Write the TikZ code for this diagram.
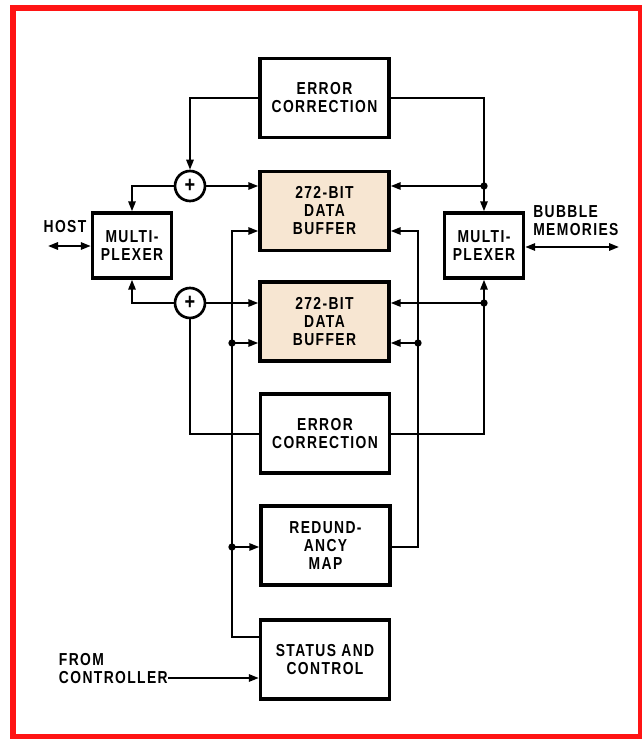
\documentclass[tikz,border=0pt]{standalone}
\usepackage{fontspec}
\newfontfamily\lab{Liberation Sans}[FakeStretch=0.8,LetterSpace=8]
\usetikzlibrary{arrows.meta,calc}
\definecolor{buf}{HTML}{F7E6D2}
\definecolor{frame}{HTML}{FF1414}
\tikzset{
  box/.style={draw, line width=2.6pt, minimum width=129*0.75pt, minimum height=79*0.75pt, align=center, inner sep=0pt},
  bufbox/.style={box, fill=buf},
  mux/.style={draw, line width=2.6pt, minimum width=79*0.75pt, minimum height=65*0.75pt, align=center, inner sep=0pt},
  sum/.style={draw, circle, line width=2pt, minimum size=30*0.75pt, inner sep=0pt, font=\lab\bfseries\fontsize{17}{17}\selectfont},
  conn/.style={line width=1.5pt},
  arr/.style={conn, -{Triangle[length=7.5pt,width=5.5pt]}},
  darr/.style={conn, {Triangle[length=7.5pt,width=5.5pt]}-{Triangle[length=7.5pt,width=5.5pt]}},
  dot/.style={fill, circle, inner sep=0pt, minimum size=5.5pt},
  txt/.style={align=left, inner sep=0pt}
}
\begin{document}
\begin{tikzpicture}[x=0.75pt, y=-0.75pt, font=\lab\bfseries\fontsize{13}{13.5}\selectfont]
\useasboundingbox (0,0) rectangle (642,739);
\draw[frame, line width=4.8pt] (13,8) rectangle (641,737);

% boxes
\node[box] (ec1) at (324.5,98) {ERROR\\CORRECTION};
\node[bufbox] (buf1) at (324.5,211) {272-BIT\\DATA\\BUFFER};
\node[bufbox] (buf2) at (324.5,321.5) {272-BIT\\DATA\\BUFFER};
\node[box] (ec2) at (325,433.5) {ERROR\\CORRECTION};
\node[box] (red) at (325.5,545.5) {REDUND-\\ANCY\\MAP};
\node[box] (sc) at (325,659.5) {STATUS AND\\CONTROL};
\node[mux] (muxL) at (132,245.5) {MULTI-\\PLEXER};
\node[mux] (muxR) at (484,245.5) {MULTI-\\PLEXER};
\node[sum] (c1) at (190,186) {+};
\node[sum] (c2) at (190,303) {+};

% coordinates
\coordinate (j1) at (484,186);
\coordinate (j2) at (484,303);
\coordinate (lt) at (232,231);
\coordinate (lm) at (232,343);
\coordinate (lr) at (232,547);
\coordinate (lb) at (232,637);
\coordinate (rt) at (418,231);
\coordinate (rm) at (418,343);
\coordinate (rb) at (418,547);
\coordinate (host) at (48,246);
\coordinate (bub) at (619,247);
\coordinate (ctl) at (168,678);

% top error correction
\draw[arr] (ec1.west) -| (c1.north);
\draw[arr] (ec1.east) -| (muxR.north);
\draw[arr] (j1) -- (buf1.east |- j1);
\node[dot] at (j1) {};
% adders
\draw[arr] (c1.east) -- (buf1.west |- c1);
\draw[arr] (c1.west) -| (muxL.north);
\draw[arr] (c2.east) -- (buf2.west |- c2);
\draw[arr] (c2.west) -| (muxL.south);
\draw[conn] (c2.south) |- (ec2.west);
% lower error correction
\draw[arr] (ec2.east) -| (muxR.south);
\draw[arr] (j2) -- (buf2.east |- j2);
\node[dot] at (j2) {};
% control lines (left)
\draw[arr] (sc.west |- lb) -- (lb) -- (lt) -- (buf1.west |- lt);
\draw[arr] (lm) -- (buf2.west |- lm);
\draw[arr] (lr) -- (red.west |- lr);
\node[dot] at (lm) {};
\node[dot] at (lr) {};
% redundancy map lines (right)
\draw[arr] (red.east |- rb) -- (rb) -- (rt) -- (buf1.east |- rt);
\draw[arr] (rm) -- (buf2.east |- rm);
\node[dot] at (rm) {};
% external
\draw[darr] (host) -- (muxL.west |- host);
\draw[darr] (muxR.east |- bub) -- (bub);
\draw[arr] (ctl) -- (sc.west |- ctl);

% labels
\node[txt] (hostl) at (65,227) {HOST};
\node[txt, anchor=west] (bubl) at (533,221) {BUBBLE\\MEMORIES};
\node[txt, anchor=east] (ctll) at (168,669) {FROM\\CONTROLLER};
\end{tikzpicture}
\end{document}
